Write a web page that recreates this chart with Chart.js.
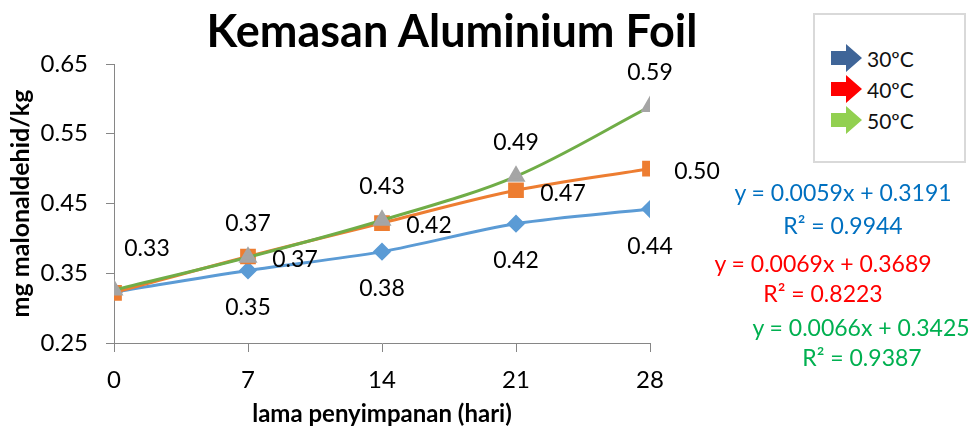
<!DOCTYPE html>
<html>
<head>
<meta charset="utf-8">
<script src="https://cdn.jsdelivr.net/npm/chart.js@4/dist/chart.umd.min.js"></script>
<style>
  body { margin: 0; background: #fff; }
  #wrap { position: relative; width: 974px; height: 429px; font-family: Lato, sans-serif; }
  #chart { position: absolute; left: 0; top: 0; }
  .title { position: absolute; left: 452px; top: 30px; transform: translate(-50%, -50%);
           font-size: 45px; font-weight: bold; white-space: nowrap; color: #000; }
  .legend { position: absolute; left: 813px; top: 13px; width: 153px; height: 150px;
            border: 2px solid #d9d9d9; box-sizing: border-box; background: #fff; }
  .legend .row { position: absolute; left: 15px; height: 30px; display: flex; align-items: center;
                 font-size: 21px; color: #111; }
  .legend svg { margin-right: 3px; }
  .eq { position: absolute; font-size: 23px; white-space: nowrap; transform: translate(-50%, -50%); }
</style>
</head>
<body>
<div id="wrap">
  <canvas id="chart" width="904" height="429"></canvas>
  <div class="title">Kemasan Aluminium Foil</div>
  <div class="legend" id="legend"></div>
  <div id="equations"></div>
</div>
<script>
const days = [0, 7, 14, 21, 28];
const suhu30 = [0.323, 0.354, 0.381, 0.421, 0.442];
const suhu40 = [0.322, 0.374, 0.422, 0.469, 0.500];
const suhu50 = [0.326, 0.373, 0.426, 0.489, 0.589];
const seriesNames = ['30ºC', '40ºC', '50ºC'];
const legendColors = ['#3f6598', '#ff0000', '#92d050'];
const trendLines = [
  ['y = 0.0059x + 0.3191', 'R² = 0.9944'],
  ['y = 0.0069x + 0.3689', 'R² = 0.8223'],
  ['y = 0.0066x + 0.3425', 'R² = 0.9387']
];
const trendColors = ['#0070c0', '#ff0000', '#00b050'];
const yMin = 0.25, yMax = 0.65, yStep = 0.1;

function toPoints(values) {
  return days.map((d, i) => ({ x: d, y: values[i] }));
}

// draws the value labels next to each point, like the excel data labels
const valueLabels = {
  id: 'valueLabels',
  afterDatasetsDraw(chart, args, opts) {
    const ctx = chart.ctx;
    ctx.save();
    ctx.font = '23px Lato';
    ctx.fillStyle = '#000';
    ctx.textAlign = 'center';
    ctx.textBaseline = 'middle';
    chart.data.datasets.forEach((ds, di) => {
      const meta = chart.getDatasetMeta(di);
      const pos = opts.positions[di];
      meta.data.forEach((pt, i) => {
        let off = pos;
        if (i === 0) {
          off = opts.first[di];
          if (!off) return;
        }
        ctx.fillText(ds.data[i].y.toFixed(2), pt.x + off.dx, pt.y + off.dy);
      });
    });
    ctx.restore();
  }
};

const ctx = document.getElementById('chart').getContext('2d');
const chart = new Chart(ctx, {
  type: 'line',
  data: {
    datasets: [
      {
        label: seriesNames[0],
        data: toPoints(suhu30),
        borderColor: '#5b9bd5',
        backgroundColor: '#5b9bd5',
        pointStyle: 'rectRot',
        pointRadius: 7,
        borderWidth: 3,
        order: 2
      },
      {
        label: seriesNames[1],
        data: toPoints(suhu40),
        borderColor: '#ed7d31',
        backgroundColor: '#ed7d31',
        pointStyle: 'rect',
        pointRadius: 9,
        borderWidth: 3,
        order: 1
      },
      {
        label: seriesNames[2],
        data: toPoints(suhu50),
        borderColor: '#70ad47',
        backgroundColor: '#a5a5a5',
        pointBorderColor: '#a5a5a5',
        pointStyle: 'triangle',
        pointRadius: 8,
        borderWidth: 3,
        order: 0
      }
    ]
  },
  options: {
    responsive: false,
    animation: false,
    layout: { padding: { left: 0, right: 254, top: 64, bottom: 0 } },
    elements: { line: { tension: 0.33 } },
    plugins: {
      legend: { display: false },
      tooltip: { enabled: false },
      valueLabels: {
        positions: [{ dx: 0, dy: 37 }, { dx: 47, dy: 3 }, { dx: 0, dy: -34 }],
        first: [null, null, { dx: 33, dy: -41 }]
      }
    },
    scales: {
      x: {
        type: 'linear',
        min: 0,
        max: 28,
        afterBuildTicks: (axis) => { axis.ticks = days.map(d => ({ value: d })); },
        afterFit: (axis) => { axis.height = 86; },
        grid: { drawOnChartArea: false, tickLength: 9, color: '#868686' },
        border: { color: '#868686', width: 1 },
        ticks: { color: '#000', font: { family: 'Lato', size: 24 }, padding: 14, maxRotation: 0 },
        title: {
          display: true,
          text: 'lama penyimpanan (hari)',
          color: '#000',
          font: { family: 'Lato', size: 24, weight: 'bold' },
          padding: { top: 4, bottom: 0 }
        }
      },
      y: {
        min: yMin,
        max: yMax,
        ticks: {
          stepSize: yStep,
          color: '#000',
          font: { family: 'Lato', size: 24 },
          padding: 18,
          callback: (v) => v.toFixed(2)
        },
        afterFit: (axis) => { axis.width = 114; },
        grid: { drawOnChartArea: false, tickLength: 8, color: '#868686' },
        border: { color: '#868686', width: 1 },
        title: {
          display: true,
          text: 'mg malonaldehid/kg',
          color: '#000',
          font: { family: 'Lato', size: 25, weight: 'bold' },
          padding: { top: 6, bottom: 4 }
        }
      }
    }
  },
  plugins: [valueLabels]
});

// legend box with arrow markers
const legend = document.getElementById('legend');
seriesNames.forEach((name, i) => {
  const row = document.createElement('div');
  row.className = 'row';
  row.style.top = (28 + i * 31) + 'px';
  row.innerHTML = '<svg width="34" height="30" viewBox="0 0 34 30">' +
    '<polygon points="1,8 16,8 16,1 32,15 16,29 16,22 1,22" fill="' + legendColors[i] + '"/></svg>' +
    '<span>' + name + '</span>';
  legend.appendChild(row);
});

// trendline equations
const eqPos = [[843, 192], [843, 225], [823, 263], [823, 293], [861, 327], [862, 357]];
const eqBox = document.getElementById('equations');
trendLines.forEach((pair, i) => {
  pair.forEach((txt, j) => {
    const d = document.createElement('div');
    d.className = 'eq';
    d.style.color = trendColors[i];
    const p = eqPos[i * 2 + j];
    d.style.left = p[0] + 'px';
    d.style.top = p[1] + 'px';
    d.textContent = txt;
    eqBox.appendChild(d);
  });
});
</script>
</body>
</html>
